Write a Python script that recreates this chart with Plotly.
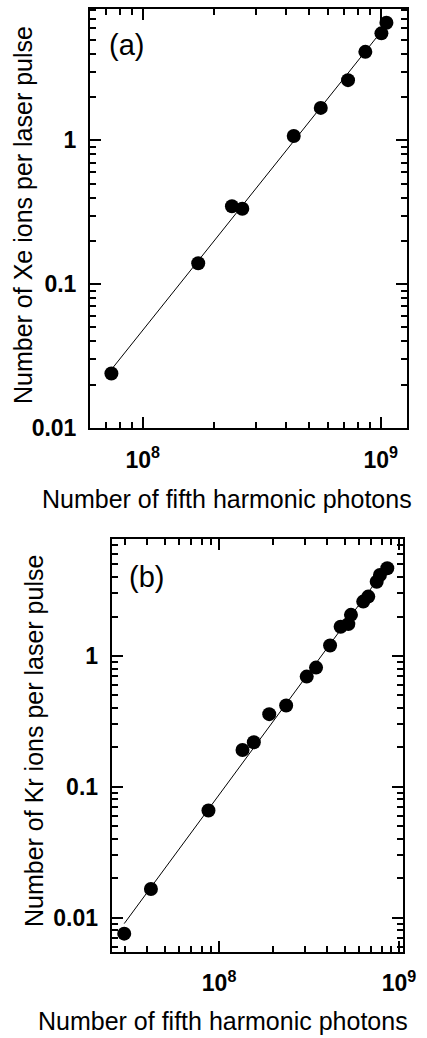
import numpy as np
import plotly.graph_objects as go

# Panel (a): Xe
xe_photons = [7.38e7, 1.71e8, 2.37e8, 2.62e8, 4.31e8, 5.60e8, 7.29e8, 8.62e8, 1.007e9, 1.057e9]
xe_ions = [0.0239, 0.1396, 0.348, 0.334, 1.07, 1.68, 2.62, 4.12, 5.54, 6.57]

# Panel (b): Kr
kr_photons = [2.97e7, 4.18e7, 8.73e7, 1.35e8, 1.56e8, 1.90e8, 2.36e8, 3.07e8, 3.46e8,
              4.14e8, 4.74e8, 5.23e8, 5.41e8, 6.33e8, 6.75e8, 7.52e8, 7.84e8, 8.61e8]
kr_ions = [0.00755, 0.01656, 0.0659, 0.191, 0.219, 0.359, 0.418, 0.695, 0.814,
           1.20, 1.67, 1.75, 2.06, 2.60, 2.84, 3.69, 4.15, 4.67]

x_tickvals = [1e8, 1e9]
x_ticktext = ["10<sup>8</sup>", "10<sup>9</sup>"]
y_tickvals = [0.01, 0.1, 1]
y_ticktext = ["0.01", "0.1", "1"]

xtitle = "Number of fifth harmonic photons"
ytitle_a = "Number of Xe ions per laser pulse"
ytitle_b = "Number of Kr ions per laser pulse"

W, H = 427, 1038


def fit_line(x, y):
    lx, ly = np.log10(x), np.log10(y)
    p = np.polyfit(lx, ly, 1)
    xs = np.array([min(lx), max(lx)])
    return 10 ** xs, 10 ** np.polyval(p, xs)


def minor_vals(d0, d1):
    return [m * 10.0 ** d for d in range(d0, d1 + 1) for m in range(2, 10)]


fig = go.Figure()

for i, (xd, yd) in enumerate([(xe_photons, xe_ions), (kr_photons, kr_ions)]):
    xa = "x" if i == 0 else "x2"
    ya = "y" if i == 0 else "y2"
    lx, ly = fit_line(xd, yd)
    fig.add_trace(go.Scatter(x=lx, y=ly, mode="lines", line=dict(color="black", width=1),
                             xaxis=xa, yaxis=ya, showlegend=False, hoverinfo="skip"))
    fig.add_trace(go.Scatter(x=xd, y=yd, mode="markers",
                             marker=dict(color="black", size=14, line=dict(width=0)),
                             xaxis=xa, yaxis=ya, showlegend=False))

tickfont = dict(family="Liberation Sans, Arial, sans-serif", size=23, color="black", weight="bold")
common = dict(type="log", showline=True, linecolor="black", linewidth=2, mirror="allticks",
              ticks="inside", ticklen=11, tickwidth=2, tickcolor="black", automargin=False,
              showgrid=False, zeroline=False, tickfont=tickfont)
minor_style = dict(ticks="inside", ticklen=6, tickwidth=1.5, tickcolor="black", tickmode="array")


def px_x(a, b):
    return [a / W, b / W]


def px_y(top, bot):
    return [1 - bot / H, 1 - top / H]


fig.update_layout(
    width=W, height=H, margin=dict(l=0, r=0, t=0, b=0, autoexpand=False),
    paper_bgcolor="white", plot_bgcolor="white",
    xaxis=dict(common, domain=px_x(90, 407), anchor="y", range=[np.log10(6.0e7), np.log10(1.29e9)],
               tickmode="array", tickvals=x_tickvals, ticktext=x_ticktext, ticklabelstandoff=10,
               minor=dict(minor_style, tickvals=minor_vals(7, 9))),
    yaxis=dict(common, domain=px_y(9, 428), anchor="x", range=[-2, np.log10(8.18)],
               tickmode="array", tickvals=y_tickvals, ticktext=y_ticktext, ticklabelstandoff=7,
               minor=dict(minor_style, tickvals=minor_vals(-2, 0))),
    xaxis2=dict(common, domain=px_x(111.7, 403.3), anchor="y2", range=[np.log10(2.53e7), np.log10(1.057e9)],
                tickmode="array", tickvals=x_tickvals, ticktext=x_ticktext, ticklabelstandoff=10,
                minor=dict(minor_style, tickvals=minor_vals(7, 9))),
    yaxis2=dict(common, domain=px_y(539.3, 951.7), anchor="x2", range=[-2.26, np.log10(7.78)],
                tickmode="array", tickvals=y_tickvals, ticktext=y_ticktext, ticklabelstandoff=7,
                minor=dict(minor_style, tickvals=minor_vals(-3, 0))),
)

tfont = dict(family="Liberation Sans, Arial, sans-serif", size=25, color="black")
annots = [
    dict(text=xtitle, x=227 / W, y=1 - 499 / H, textangle=0),
    dict(text=xtitle, x=223 / W, y=1 - 1021 / H, textangle=0),
    dict(text=ytitle_a, x=23 / W, y=1 - 215 / H, textangle=-90),
    dict(text=ytitle_b, x=34 / W, y=1 - 741 / H, textangle=-90),
]
for a in annots:
    fig.add_annotation(xref="paper", yref="paper", xanchor="center", yanchor="middle",
                       showarrow=False, font=tfont, **a)

lfont = dict(family="Liberation Sans, Arial, sans-serif", size=29, color="black")
fig.add_annotation(xref="paper", yref="paper", x=126 / W, y=1 - 45 / H, text="(a)",
                   showarrow=False, xanchor="center", yanchor="middle", font=lfont)
fig.add_annotation(xref="paper", yref="paper", x=146.5 / W, y=1 - 577 / H, text="(b)",
                   showarrow=False, xanchor="center", yanchor="middle", font=lfont)

fig.write_html("out.html", config={"displayModeBar": False},
               post_script="document.body.style.margin='0';document.body.style.overflow='hidden';")
